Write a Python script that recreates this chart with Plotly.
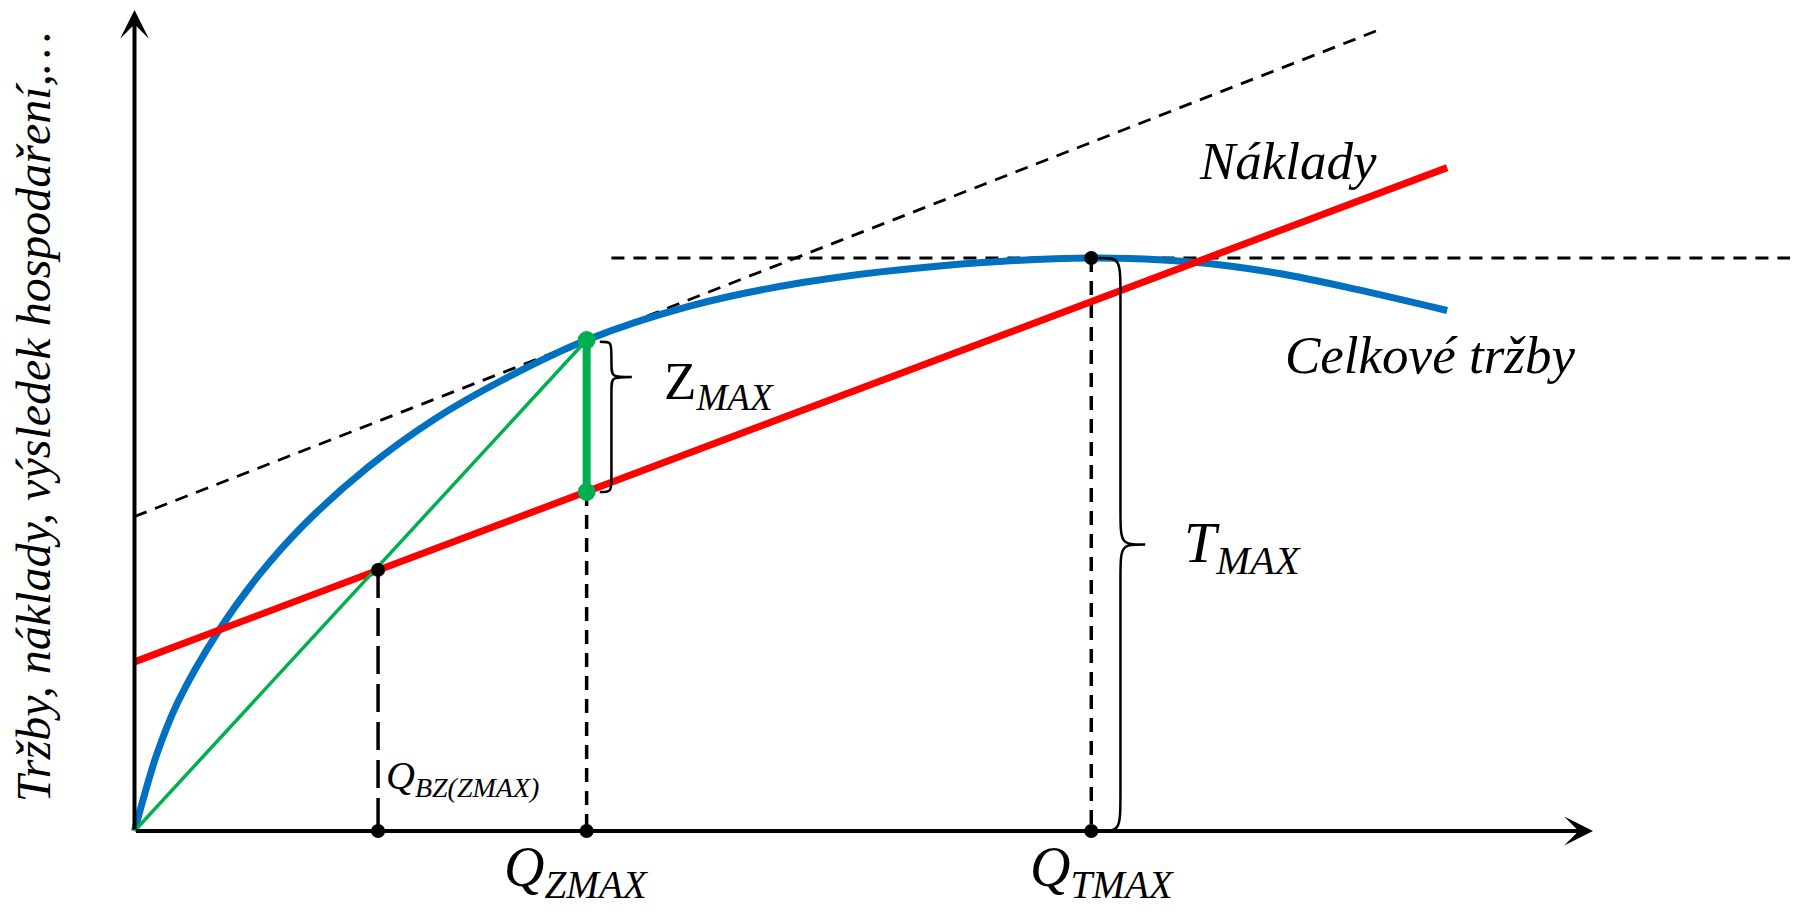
import plotly.graph_objects as go

# ------------ data (quantity Q on x, money on y)
axis_q_end = 100.0
axis_money_end = 100.0

revenue_q = [0, 1.5, 3.0, 5.7, 8.5, 11.5, 16.0, 20.6, 25.2, 31.0, 38.0, 45.8, 55.0, 65.6, 72.5, 78.5, 83.7, 90.0]
revenue = [0, 9.2, 15.8, 24.2, 31.1, 37.1, 44.3, 50.2, 54.9, 59.8, 63.9, 66.8, 68.8, 69.8, 69.3, 67.9, 66.0, 63.4]

cost_q = [0, 90.0]
cost = [20.6, 80.8]

tangent_q = [0, 85.5]
tangent = [38.3, 97.7]

q_bz = 16.7
q_zmax = 31.0
q_tmax = 65.6
cost_at_bz = 31.8
cost_at_zmax = 41.3
revenue_at_zmax = 59.8
t_max = 69.8
hline_q = [32.7, 120.0]

# ------------ styles
BLUE = "#0070C0"
RED = "#FF0000"
GREEN = "#00B050"
FONT = "Liberation Serif, Times New Roman, serif"

# pixel geometry of the page (browser body keeps an 8px margin)
W, H = 1798, 915
OFF = 8
FW, FH = W - 2 * OFF, H - 2 * OFF
origin_px = (134.5 - OFF, 831.0 - OFF)
px_per_q = (1593.0 - 134.5) / axis_q_end
px_per_m = (831.0 - 10.0) / axis_money_end

x_range = [-origin_px[0] / px_per_q, (FW - origin_px[0]) / px_per_q]
y_range = [-(FH - origin_px[1]) / px_per_m, origin_px[1] / px_per_m]


def brace_path(x0, x1, x2, y_top, y_tip, y_bot, r_end, r_tip):
    """right pointing curly brace as svg path (data coords)"""
    return (f"M {x0},{y_top} C {x1},{y_top} {x1},{y_top} {x1},{y_top - r_end} "
            f"L {x1},{y_tip + r_tip} C {x1},{y_tip} {x1},{y_tip} {x2},{y_tip} "
            f"C {x1},{y_tip} {x1},{y_tip} {x1},{y_tip - r_tip} "
            f"L {x1},{y_bot + r_end} C {x1},{y_bot} {x1},{y_bot} {x0},{y_bot}")


fig = go.Figure()

# dashed helpers
fig.add_trace(go.Scatter(x=tangent_q, y=tangent, mode="lines",
                         line=dict(color="black", width=2.8, dash="13px,9px")))
fig.add_trace(go.Scatter(x=hline_q, y=[t_max, t_max], mode="lines",
                         line=dict(color="black", width=3, dash="13px,9px")))
fig.add_trace(go.Scatter(x=[q_bz, q_bz], y=[cost_at_bz, 0], mode="lines",
                         line=dict(color="black", width=3.5, dash="28px,10px")))
fig.add_trace(go.Scatter(x=[q_zmax, q_zmax], y=[cost_at_zmax, 0], mode="lines",
                         line=dict(color="black", width=3.5, dash="14px,9px")))
fig.add_trace(go.Scatter(x=[q_tmax, q_tmax], y=[t_max, 0], mode="lines",
                         line=dict(color="black", width=3.5, dash="14px,9px")))

# curves
fig.add_trace(go.Scatter(x=revenue_q, y=revenue, mode="lines",
                         line=dict(color=BLUE, width=7, shape="spline", smoothing=0.9)))
fig.add_trace(go.Scatter(x=cost_q, y=cost, mode="lines",
                         line=dict(color=RED, width=7)))
fig.add_trace(go.Scatter(x=[0, q_zmax], y=[0, revenue_at_zmax], mode="lines",
                         line=dict(color=GREEN, width=3.5)))
fig.add_trace(go.Scatter(x=[q_zmax, q_zmax], y=[cost_at_zmax, revenue_at_zmax], mode="lines+markers",
                         line=dict(color=GREEN, width=8), marker=dict(color=GREEN, size=18)))

# black points
fig.add_trace(go.Scatter(x=[q_bz, q_bz, q_zmax, q_tmax, q_tmax],
                         y=[cost_at_bz, 0, 0, t_max, 0], mode="markers",
                         marker=dict(color="black", size=14)))

# braces
fig.add_shape(type="path", xref="x", yref="y",
              path=brace_path(q_zmax + 0.9, q_zmax + 1.7, q_zmax + 3.1,
                              revenue_at_zmax - 0.2, revenue_at_zmax - 4.5, cost_at_zmax, 2.0, 1.8),
              line=dict(color="black", width=2.5))
fig.add_shape(type="path", xref="x", yref="y",
              path=brace_path(q_tmax + 0.5, q_tmax + 2.0, q_tmax + 3.7,
                              t_max, t_max / 2, 0, 5.0, 4.5),
              line=dict(color="black", width=2.5))

# axes with arrows
fig.add_annotation(x=axis_q_end, y=0, ax=0, ay=0, xref="x", yref="y", axref="x", ayref="y",
                   showarrow=True, arrowhead=3, arrowsize=1.2, arrowwidth=4, arrowcolor="black", text="")
fig.add_annotation(x=0, y=axis_money_end, ax=0, ay=0, xref="x", yref="y", axref="x", ayref="y",
                   showarrow=True, arrowhead=3, arrowsize=1.2, arrowwidth=4, arrowcolor="black", text="")

# texts inside the drawing
labels = [
    (79.1, 81.6, "<i>Náklady</i>", 53, "center"),
    (88.8, 58.0, "<i>Celkové tržby</i>", 53, "center"),
    (36.2, 54.3, "Z<sub><i>MAX</i></sub>", 53, "left"),
    (71.8, 34.6, "<i>T<sub>MAX</sub></i>", 58, "left"),
    (17.1, 6.5, "<i>Q<sub>BZ(ZMAX)</sub></i>", 40, "left"),
]
for x, y, txt, size, xanc in labels:
    fig.add_annotation(x=x, y=y, xref="x", yref="y", text=txt, showarrow=False,
                       xanchor=xanc, yanchor="middle",
                       font=dict(family=FONT, size=size, color="black"))

# quantity labels under the axis (anchored to the bottom of the page)
for q, txt in [(q_zmax - 0.7, "<i>Q<sub>ZMAX</sub></i>"), (q_tmax + 0.8, "<i>Q<sub>TMAX</sub></i>")]:
    fig.add_annotation(x=q, y=0.0, xref="x", yref="paper", text=txt, showarrow=False,
                       xanchor="center", yanchor="bottom", borderpad=0,
                       font=dict(family=FONT, size=56, color="black"))

fig.add_annotation(x=-6.9, y=50.5, xref="x", yref="y", textangle=-90, showarrow=False,
                   text="<i>Tržby, náklady, výsledek hospodaření,…</i>",
                   font=dict(family=FONT, size=48, color="black"))

fig.update_layout(width=FW, height=FH, margin=dict(l=0, r=0, t=0, b=0),
                  paper_bgcolor="white", plot_bgcolor="white", showlegend=False,
                  hovermode=False)
fig.update_xaxes(range=x_range, visible=False, fixedrange=True)
fig.update_yaxes(range=y_range, visible=False, fixedrange=True)

fig.write_html("out.html")
